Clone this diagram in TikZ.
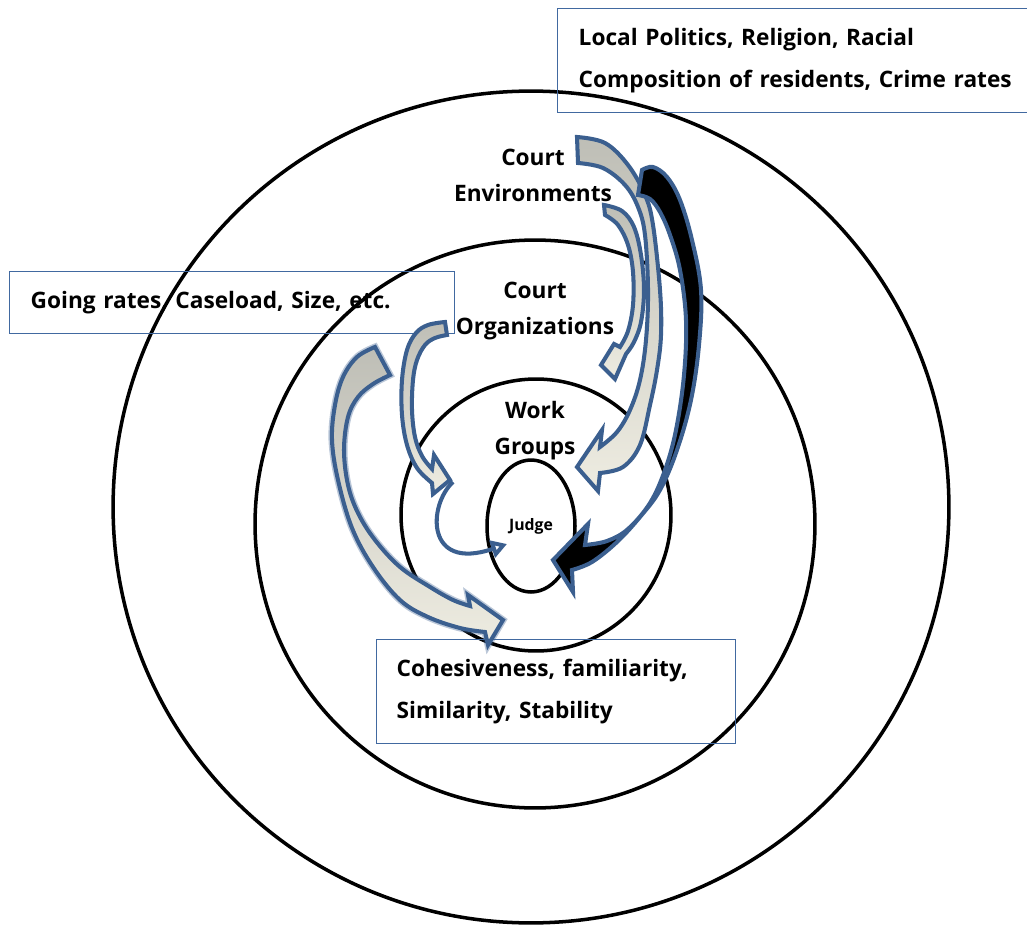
\documentclass[tikz,border=0pt]{standalone}
\usepackage{fontspec}
\setmainfont{Open Sans}
\usetikzlibrary{arrows.meta,shapes.geometric}
\definecolor{arrowblue}{RGB}{59,95,143}
\definecolor{boxblue}{RGB}{65,105,160}
\definecolor{tailgray}{RGB}{190,190,182}
\definecolor{headlight}{RGB}{238,236,225}

\begin{document}
\begin{tikzpicture}[x=0.02cm, y=-0.02cm,
    ring/.style={draw, line width=2pt},
    infobox/.style={draw=boxblue, line width=0.8pt, anchor=north west, align=left,
      font=\fontsize{12.9}{23.5}\selectfont\bfseries},
    layer/.style={align=center, font=\fontsize{12.9}{20.5}\selectfont\bfseries},
    blockarrow/.style={draw=arrowblue, line width=2.3pt, top color=tailgray, bottom color=headlight},
    darkarrow/.style={draw=arrowblue, line width=2.3pt, fill=black}]
\useasboundingbox (0,0) rectangle (1027,925);

% rings
\draw[ring] (531,507) ellipse [x radius=8.36cm, y radius=8.32cm];
\draw[ring] (535,524) ellipse [x radius=5.6cm, y radius=5.68cm];
\draw[ring] (536,515) ellipse [x radius=2.7cm, y radius=2.72cm];
\node[ring, ellipse, minimum width=1.76cm, minimum height=2.64cm, inner sep=0pt,
  font=\fontsize{9}{11}\selectfont\bfseries] (Judge) at (531,526) {Judge};

% boxes
\node[infobox, minimum width=10cm, minimum height=2.08cm, text width=9.16cm, inner xsep=0.42cm]
  (EnvBox) at (557,8) {Local Politics, Religion, Racial\\Composition of residents, Crime rates};
\node[infobox, minimum width=8.91cm, minimum height=1.24cm, text width=8.05cm, inner xsep=0.43cm]
  (OrgBox) at (8.5,271) {Going rates, Caseload, Size, etc.};
\node[infobox, minimum width=7.18cm, minimum height=2.08cm, text width=6.38cm, inner xsep=0.4cm]
  (GroupBox) at (376,639) {Cohesiveness, familiarity,\\Similarity, Stability};

% environment arrows
\draw[blockarrow] plot[smooth, tension=0.6] coordinates {(577,137) (605,143) (628,165) (645,195) (653,225)
    (660,290) (661,335) (657,370) (650,405) (640,445) (623,467) (600,473)}
  -- (598,491) -- (577,467) -- (602,430) -- (600,447)
  -- plot[smooth, tension=0.6] coordinates {(600,447) (617,432) (630,410) (640,380) (646,340)
    (648,290) (645,235) (638,207) (625,185) (603,168) (578,163)} -- cycle;
\draw[darkarrow] plot[smooth, tension=0.6] coordinates {(642,170) (653,167) (667,177) (680,200) (692,240)
    (701,290) (699,345) (691,400) (677,450) (660,490) (640,517) (617,542) (592,562) (572,570)}
  -- (573,592) -- (553,560) -- (588,524) -- (585,545)
  -- plot[smooth, tension=0.6] coordinates {(585,545) (607,541) (628,529) (650,503) (665,470) (676,430)
    (684,375) (686,320) (680,270) (670,235) (660,212) (650,199) (638,195)} -- cycle;
\draw[blockarrow] plot[smooth, tension=0.6] coordinates {(604,205) (622,211) (634,227) (641,255)
    (644,290) (641,322) (634,342) (626,354)}
  -- (615,379) -- (601,365) -- (614,344) -- (620,347)
  -- plot[smooth, tension=0.6] coordinates {(620,347) (628,331) (633,305) (633,272) (628,245)
    (618,225) (605,215)} -- cycle;

% organization arrows
\draw[blockarrow] plot[smooth, tension=0.6] coordinates {(445,322) (428,325) (416,333) (407,350)
    (402,380) (402,415) (407,445) (417,468) (432,483)}
  -- (433,494) -- (450,480) -- (434,455) -- (432,469)
  -- plot[smooth, tension=0.6] coordinates {(432,469) (422,456) (415,437) (412,410) (413,380)
    (417,360) (425,345) (435,338) (447,335)} -- cycle;
\coordinate (eStart) at (453,482);
\coordinate (eTip) at (507,544);
\draw[arrowblue, line width=2.3pt, -{Triangle[open, length=9pt, width=10pt, fill=white]}]
  (eStart) .. controls (428,505) and (425,572) .. (eTip);
\draw[blockarrow, preaction={draw=arrowblue, opacity=0.35, line width=4pt}]
  (375,347) -- (390,375)
  -- plot[smooth, tension=0.6] coordinates {(390,375) (373,384) (358,397) (348,417) (344,450) (348,485)
    (358,513) (375,540) (400,567) (430,587) (453,600) (470,606)}
  -- (468,595) -- (503,620) -- (488,645) -- (485,632)
  -- plot[smooth, tension=0.6] coordinates {(485,632) (460,628) (428,617) (400,600) (373,567) (352,528)
    (338,480) (332,440) (335,405) (343,377) (357,357) (375,347)} -- cycle;

% layer labels
\node[layer] (Env) at (533,175) {Court\\Environments};
\node[layer] (Org) at (535,311) {Court\\Organizations};
\node[layer] (Work) at (535,431) {Work\\Groups};
\end{tikzpicture}
\end{document}
